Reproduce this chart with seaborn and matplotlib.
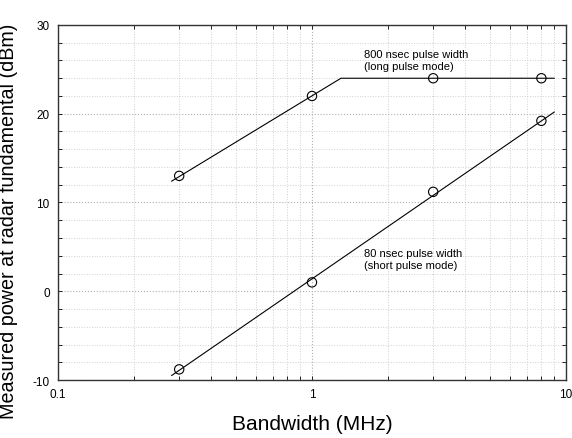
import numpy as np
import pandas as pd
import matplotlib
matplotlib.use("Agg")
import matplotlib.pyplot as plt
import matplotlib.ticker as mticker
import seaborn as sns

# Measured points
bandwidth = [0.3, 1, 3, 8]
long_pulse = [13, 22, 24, 24]
short_pulse = [-8.8, 1, 11.2, 19.2]

# Hand-fitted trend lines
long_fit_x = [0.28, 1.3, 9]
long_fit_y = [12.4, 24, 24]
short_fit_x = [0.28, 9]
short_fit_y = [-9.5, 20.2]

x_ticks = [0.1, 1, 10]
y_ticks = [-10, 0, 10, 20, 30]

sns.set_style("ticks", {'text.color': 'black', 'axes.labelcolor': 'black',
                        'xtick.color': 'black', 'ytick.color': 'black',
                        'axes.edgecolor': '#333333'})
plt.rcParams['font.family'] = ['Liberation Sans', 'DejaVu Sans']
plt.rcParams['axes.unicode_minus'] = False

fig = plt.figure(figsize=(5.72, 4.39), dpi=100)
ax = fig.add_axes([0.1014, 0.1321, 0.8881, 0.8087])

pts = pd.DataFrame({
    'bw': bandwidth * 2,
    'p': long_pulse + short_pulse,
    'mode': ['long'] * 4 + ['short'] * 4,
})

sns.lineplot(x=long_fit_x, y=long_fit_y, ax=ax, color='black', lw=0.8)
sns.lineplot(x=short_fit_x, y=short_fit_y, ax=ax, color='black', lw=0.8)
sns.scatterplot(data=pts, x='bw', y='p', ax=ax, marker='o', s=45,
                facecolor='none', edgecolor='black', linewidth=0.8, zorder=3)

ax.set_xscale('log')
ax.set_xlim(0.1, 10)
ax.set_ylim(-10, 30)
ax.set_xticks(x_ticks)
ax.xaxis.set_major_formatter(mticker.FuncFormatter(lambda v, _: f"{v:g}"))
ax.xaxis.set_minor_locator(mticker.LogLocator(base=10, subs=np.arange(2, 10)))
ax.xaxis.set_minor_formatter(mticker.NullFormatter())
ax.set_yticks(y_ticks)
ax.yaxis.set_minor_locator(mticker.MultipleLocator(2))

ax.grid(True, which='major', ls=':', color='#b0b0b0', lw=0.8)
ax.grid(True, which='minor', ls=':', color='#d0d0d0', lw=0.7)
ax.tick_params(which='both', direction='in', top=True, right=True,
               labelsize=8.5, length=3, width=0.6)
ax.tick_params(which='major', pad=6)
for s in ax.spines.values():
    s.set_linewidth(1.0)

ax.text(1.6, 27.3, "800 nsec pulse width\n(long pulse mode)", fontsize=8,
        va='top', ha='left', linespacing=1.25)
ax.text(1.6, 4.9, "80 nsec pulse width\n(short pulse mode)", fontsize=8,
        va='top', ha='left', linespacing=1.25)

ax.set_xlabel("Bandwidth (MHz)", fontsize=15)
ax.xaxis.set_label_coords(0.5, -0.097)
ax.set_ylabel("Measured power at radar fundamental (dBm)", fontsize=14.2)
ax.yaxis.set_label_coords(-0.079, 0.45)

fig.savefig("out.png", dpi=100)
